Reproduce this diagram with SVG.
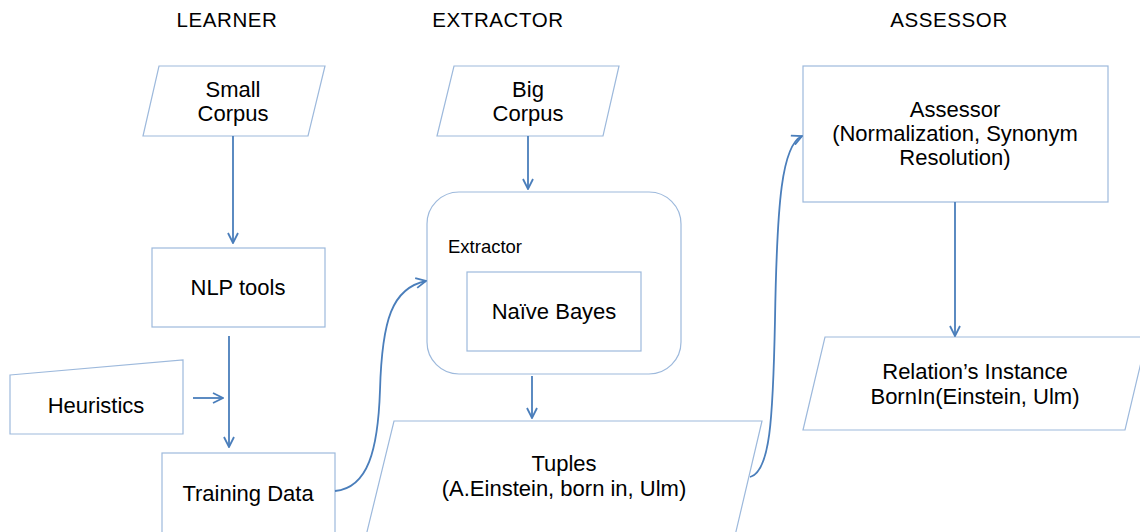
<svg xmlns="http://www.w3.org/2000/svg" width="1140" height="532" viewBox="0 0 1140 532">
<style>
.shape{fill:#ffffff;stroke:#9db9dc;stroke-width:1.2}
.conn{fill:none;stroke:#4a7ebb;stroke-width:1.8;marker-end:url(#arr)}
text{font-family:"Liberation Sans",Arial,sans-serif;fill:#000;font-size:22px}
.c{text-anchor:middle}
.h{font-size:20.5px;letter-spacing:0.6px}
</style>
<defs>
<marker id="arr" viewBox="0 0 12 12" refX="11" refY="6" markerWidth="12" markerHeight="12" markerUnits="userSpaceOnUse" orient="auto">
<polyline points="1,1 11,6 1,11" fill="none" stroke="#4a7ebb" stroke-width="1.8"/>
</marker>
</defs>
<rect width="1140" height="532" fill="#ffffff"/>
<g id="headers">
<text class="c h" x="227" y="27">LEARNER</text>
<text class="c h" x="498" y="27">EXTRACTOR</text>
<text class="c h" x="949" y="27">ASSESSOR</text>
</g>
<g id="small-corpus">
<polygon class="shape" points="159,66 325,66 308,136 143,136"/>
<text class="c" x="233" y="97">Small</text>
<text class="c" x="233" y="121">Corpus</text>
</g>
<g id="nlp-tools">
<rect class="shape" x="152" y="248" width="173" height="79"/>
<text class="c" x="238" y="295">NLP tools</text>
</g>
<g id="heuristics">
<polygon class="shape" points="10,375 183,360 183,434 10,434"/>
<text class="c" x="96" y="413">Heuristics</text>
</g>
<g id="training-data">
<rect class="shape" x="162" y="453" width="173" height="90"/>
<text class="c" x="248" y="501">Training Data</text>
</g>
<g id="big-corpus">
<polygon class="shape" points="454,66 619,66 603,136 437,136"/>
<text class="c" x="528" y="97">Big</text>
<text class="c" x="528" y="121">Corpus</text>
</g>
<g id="extractor">
<rect class="shape" x="427" y="192" width="254" height="182" rx="32" ry="32"/>
<text x="448" y="253" style="font-size:18.5px">Extractor</text>
</g>
<g id="naive-bayes">
<rect class="shape" x="467" y="272" width="174" height="79"/>
<text class="c" x="554" y="319">Naïve Bayes</text>
</g>
<g id="tuples">
<polygon class="shape" points="394,421 762,421 734,540 365,540"/>
<text class="c" x="564" y="471">Tuples</text>
<text class="c" x="564" y="496">(A.Einstein, born in, Ulm)</text>
</g>
<g id="assessor">
<rect class="shape" x="803" y="66" width="305" height="136"/>
<text class="c" x="955" y="117">Assessor</text>
<text class="c" x="955" y="141">(Normalization, Synonym</text>
<text class="c" x="955" y="165">Resolution)</text>
</g>
<g id="relation-instance">
<polygon class="shape" points="825,337 1147,337 1125,430 803,430"/>
<text class="c" x="975" y="379">Relation’s Instance</text>
<text class="c" x="975" y="404">BornIn(Einstein, Ulm)</text>
</g>
<g id="connectors">
<line class="conn" x1="233" y1="136" x2="233" y2="243"/>
<line class="conn" x1="229" y1="336" x2="229" y2="447"/>
<line class="conn" x1="193" y1="398" x2="223" y2="398"/>
<line class="conn" x1="528" y1="136" x2="528" y2="189"/>
<line class="conn" x1="532" y1="376" x2="532" y2="418"/>
<line class="conn" x1="955" y1="202" x2="955" y2="336"/>
<path class="conn" d="M335,491 C368,488 378,450 380,390 C382,320 392,288 426,281"/>
<path class="conn" d="M750,477 C770,472 773,420 775,320 C777,200 782,145 802,136"/>
</g>
</svg>
